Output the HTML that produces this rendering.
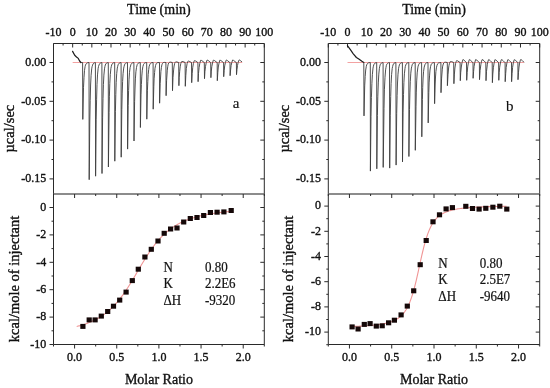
<!DOCTYPE html>
<html><head><meta charset="utf-8"><style>
html,body{margin:0;padding:0;background:#fff;}
body{width:550px;height:388px;overflow:hidden;font-family:"Liberation Serif",serif;}
svg{display:block;will-change:transform;}
</style></head><body>
<svg width="550" height="388" viewBox="0 0 550 388" font-family="Liberation Serif" fill="#111" stroke-linejoin="round"><rect x="53.5" y="43.5" width="210.8" height="301.0" fill="none" stroke="#2a2a2a" stroke-width="1"/>
<line x1="53.50" y1="194.00" x2="264.30" y2="194.00" stroke="#666" stroke-width="1.6"/>
<line x1="53.50" y1="43.50" x2="53.50" y2="47.50" stroke="#2a2a2a" stroke-width="1"/>
<text transform="translate(53.50,36.00) scale(1,1.1)" font-size="12" text-anchor="middle" stroke="#111" stroke-width="0.35" >-10</text>
<line x1="63.08" y1="43.50" x2="63.08" y2="45.50" stroke="#2a2a2a" stroke-width="1"/>
<line x1="72.66" y1="43.50" x2="72.66" y2="47.50" stroke="#2a2a2a" stroke-width="1"/>
<text transform="translate(72.66,36.00) scale(1,1.1)" font-size="12" text-anchor="middle" stroke="#111" stroke-width="0.35" >0</text>
<line x1="82.25" y1="43.50" x2="82.25" y2="45.50" stroke="#2a2a2a" stroke-width="1"/>
<line x1="91.83" y1="43.50" x2="91.83" y2="47.50" stroke="#2a2a2a" stroke-width="1"/>
<text transform="translate(91.83,36.00) scale(1,1.1)" font-size="12" text-anchor="middle" stroke="#111" stroke-width="0.35" >10</text>
<line x1="101.41" y1="43.50" x2="101.41" y2="45.50" stroke="#2a2a2a" stroke-width="1"/>
<line x1="110.99" y1="43.50" x2="110.99" y2="47.50" stroke="#2a2a2a" stroke-width="1"/>
<text transform="translate(110.99,36.00) scale(1,1.1)" font-size="12" text-anchor="middle" stroke="#111" stroke-width="0.35" >20</text>
<line x1="120.57" y1="43.50" x2="120.57" y2="45.50" stroke="#2a2a2a" stroke-width="1"/>
<line x1="130.15" y1="43.50" x2="130.15" y2="47.50" stroke="#2a2a2a" stroke-width="1"/>
<text transform="translate(130.15,36.00) scale(1,1.1)" font-size="12" text-anchor="middle" stroke="#111" stroke-width="0.35" >30</text>
<line x1="139.74" y1="43.50" x2="139.74" y2="45.50" stroke="#2a2a2a" stroke-width="1"/>
<line x1="149.32" y1="43.50" x2="149.32" y2="47.50" stroke="#2a2a2a" stroke-width="1"/>
<text transform="translate(149.32,36.00) scale(1,1.1)" font-size="12" text-anchor="middle" stroke="#111" stroke-width="0.35" >40</text>
<line x1="158.90" y1="43.50" x2="158.90" y2="45.50" stroke="#2a2a2a" stroke-width="1"/>
<line x1="168.48" y1="43.50" x2="168.48" y2="47.50" stroke="#2a2a2a" stroke-width="1"/>
<text transform="translate(168.48,36.00) scale(1,1.1)" font-size="12" text-anchor="middle" stroke="#111" stroke-width="0.35" >50</text>
<line x1="178.06" y1="43.50" x2="178.06" y2="45.50" stroke="#2a2a2a" stroke-width="1"/>
<line x1="187.65" y1="43.50" x2="187.65" y2="47.50" stroke="#2a2a2a" stroke-width="1"/>
<text transform="translate(187.65,36.00) scale(1,1.1)" font-size="12" text-anchor="middle" stroke="#111" stroke-width="0.35" >60</text>
<line x1="197.23" y1="43.50" x2="197.23" y2="45.50" stroke="#2a2a2a" stroke-width="1"/>
<line x1="206.81" y1="43.50" x2="206.81" y2="47.50" stroke="#2a2a2a" stroke-width="1"/>
<text transform="translate(206.81,36.00) scale(1,1.1)" font-size="12" text-anchor="middle" stroke="#111" stroke-width="0.35" >70</text>
<line x1="216.39" y1="43.50" x2="216.39" y2="45.50" stroke="#2a2a2a" stroke-width="1"/>
<line x1="225.97" y1="43.50" x2="225.97" y2="47.50" stroke="#2a2a2a" stroke-width="1"/>
<text transform="translate(225.97,36.00) scale(1,1.1)" font-size="12" text-anchor="middle" stroke="#111" stroke-width="0.35" >80</text>
<line x1="235.55" y1="43.50" x2="235.55" y2="45.50" stroke="#2a2a2a" stroke-width="1"/>
<line x1="245.14" y1="43.50" x2="245.14" y2="47.50" stroke="#2a2a2a" stroke-width="1"/>
<text transform="translate(245.14,36.00) scale(1,1.1)" font-size="12" text-anchor="middle" stroke="#111" stroke-width="0.35" >90</text>
<line x1="254.72" y1="43.50" x2="254.72" y2="45.50" stroke="#2a2a2a" stroke-width="1"/>
<line x1="264.30" y1="43.50" x2="264.30" y2="47.50" stroke="#2a2a2a" stroke-width="1"/>
<text transform="translate(264.30,36.00) scale(1,1.1)" font-size="12" text-anchor="middle" stroke="#111" stroke-width="0.35" >100</text>
<text transform="translate(158.90,13.80) scale(1,1.0)" font-size="14" text-anchor="middle" stroke="#111" stroke-width="0.35" >Time (min)</text>
<line x1="49.50" y1="62.50" x2="53.50" y2="62.50" stroke="#2a2a2a" stroke-width="1"/>
<line x1="264.30" y1="62.50" x2="260.30" y2="62.50" stroke="#2a2a2a" stroke-width="1"/>
<text transform="translate(46.20,65.80) scale(1,1.1)" font-size="12" text-anchor="end" stroke="#111" stroke-width="0.35" >0.00</text>
<line x1="51.50" y1="81.90" x2="53.50" y2="81.90" stroke="#2a2a2a" stroke-width="1"/>
<line x1="264.30" y1="81.90" x2="262.30" y2="81.90" stroke="#2a2a2a" stroke-width="1"/>
<line x1="49.50" y1="101.30" x2="53.50" y2="101.30" stroke="#2a2a2a" stroke-width="1"/>
<line x1="264.30" y1="101.30" x2="260.30" y2="101.30" stroke="#2a2a2a" stroke-width="1"/>
<text transform="translate(46.20,104.60) scale(1,1.1)" font-size="12" text-anchor="end" stroke="#111" stroke-width="0.35" >-0.05</text>
<line x1="51.50" y1="120.70" x2="53.50" y2="120.70" stroke="#2a2a2a" stroke-width="1"/>
<line x1="264.30" y1="120.70" x2="262.30" y2="120.70" stroke="#2a2a2a" stroke-width="1"/>
<line x1="49.50" y1="140.10" x2="53.50" y2="140.10" stroke="#2a2a2a" stroke-width="1"/>
<line x1="264.30" y1="140.10" x2="260.30" y2="140.10" stroke="#2a2a2a" stroke-width="1"/>
<text transform="translate(46.20,143.40) scale(1,1.1)" font-size="12" text-anchor="end" stroke="#111" stroke-width="0.35" >-0.10</text>
<line x1="51.50" y1="159.50" x2="53.50" y2="159.50" stroke="#2a2a2a" stroke-width="1"/>
<line x1="264.30" y1="159.50" x2="262.30" y2="159.50" stroke="#2a2a2a" stroke-width="1"/>
<line x1="49.50" y1="178.90" x2="53.50" y2="178.90" stroke="#2a2a2a" stroke-width="1"/>
<line x1="264.30" y1="178.90" x2="260.30" y2="178.90" stroke="#2a2a2a" stroke-width="1"/>
<text transform="translate(46.20,182.20) scale(1,1.1)" font-size="12" text-anchor="end" stroke="#111" stroke-width="0.35" >-0.15</text>
<text transform="translate(14.1,128.6) rotate(-90) scale(1,1.06)" font-size="14.5" text-anchor="middle" stroke="#111" stroke-width="0.35">µcal/sec</text>
<line x1="72.66" y1="62.50" x2="242.26" y2="62.50" stroke="#f08a8a" stroke-width="0.8"/>
<path d="M72.60,51.40 L74.70,55.30 L76.50,57.00 L78.30,58.40 L79.60,61.00 L80.90,62.50" fill="none" stroke="#1a1a1a" stroke-width="1.2" stroke-linejoin="round" stroke-linecap="round"/>
<path d="M80.9,62.5 L82.6,62.5 L82.8,119.4 L83.5,87.4 L84.0,77.3 L84.5,70.5 L85.1,66.5 L85.5,65.1 L86.0,64.0 L86.5,63.4 L87.1,62.9 L87.9,62.7 L89.0,62.5 L89.2,179.7 L89.8,121.0 L90.2,100.3 L90.6,85.0 L91.1,75.3 L91.7,68.9 L92.1,66.6 L92.6,65.1 L93.0,64.0 L93.7,63.2 L94.4,62.8 L95.4,62.6 L95.6,176.2 L96.2,119.2 L96.6,99.2 L97.0,84.3 L97.5,74.9 L98.1,68.7 L98.5,66.5 L99.0,65.0 L99.5,63.9 L100.1,63.2 L100.8,62.8 L101.9,62.6 L102.0,173.5 L102.6,117.9 L103.0,98.3 L103.4,84.7 L103.9,75.1 L104.5,68.8 L104.9,66.6 L105.3,65.0 L105.8,63.9 L106.4,63.2 L107.2,62.8 L108.3,62.6 L108.4,167.0 L109.1,112.4 L109.4,96.2 L109.8,83.4 L110.3,74.4 L110.9,68.4 L111.3,66.5 L111.7,65.0 L112.2,63.9 L112.8,63.2 L113.6,62.8 L114.7,62.6 L114.8,161.2 L115.4,111.7 L115.8,94.4 L116.2,82.3 L116.7,73.7 L117.3,68.1 L117.7,66.3 L118.1,64.8 L118.6,63.8 L119.2,63.2 L120.0,62.8 L121.1,62.6 L121.2,157.2 L121.8,109.7 L122.2,93.1 L122.6,81.5 L123.1,73.3 L123.7,68.1 L124.1,66.3 L124.5,64.9 L125.0,63.8 L125.6,63.2 L126.4,62.8 L127.5,62.6 L127.6,149.1 L128.2,105.7 L128.6,90.5 L129.0,79.8 L129.5,72.3 L130.1,67.6 L130.9,64.7 L131.3,63.8 L131.9,63.2 L132.7,62.8 L133.9,62.6 L134.0,141.0 L134.6,101.7 L135.0,89.0 L135.4,78.9 L135.9,71.8 L136.5,67.4 L137.2,64.6 L137.7,63.8 L138.2,63.2 L139.1,62.8 L140.3,62.6 L140.4,127.5 L141.0,94.9 L141.4,84.4 L141.8,76.1 L142.3,70.2 L142.9,66.5 L143.6,64.3 L144.1,63.5 L144.6,63.1 L145.4,62.7 L146.7,62.6 L146.8,119.2 L147.4,90.8 L147.8,81.6 L148.2,74.4 L148.7,69.5 L149.2,66.2 L150.0,64.1 L150.4,63.5 L150.9,63.0 L151.8,62.7 L153.1,62.5 L153.2,109.2 L153.8,86.8 L154.1,78.8 L154.6,72.5 L155.0,68.3 L155.6,65.4 L156.2,63.7 L156.6,63.2 L157.1,62.8 L158.0,62.6 L159.5,62.5 L159.6,103.2 L160.2,83.7 L160.9,71.5 L161.4,67.5 L161.9,64.8 L162.5,63.4 L162.8,62.9 L163.3,62.6 L164.3,62.4 L165.9,62.5 L166.1,95.7 L166.6,80.4 L167.3,70.2 L167.7,66.8 L168.2,64.2 L168.7,63.0 L169.1,62.6 L169.5,62.3 L170.5,62.1 L172.3,62.5 L172.5,90.7 L173.0,77.6 L173.7,69.1 L174.1,66.0 L174.6,63.7 L175.0,62.5 L175.6,61.9 L176.7,61.9 L178.7,62.5 L178.9,85.7 L179.2,77.3 L179.7,71.3 L180.2,66.8 L180.8,63.5 L181.4,61.8 L181.9,61.5 L183.0,61.6 L185.1,62.5 L185.3,86.3 L185.8,75.7 L186.3,68.6 L187.1,63.6 L187.8,61.4 L188.1,61.2 L188.6,61.1 L189.2,61.3 L191.5,62.5 L191.7,82.7 L192.2,73.6 L192.7,67.7 L193.4,63.5 L193.9,61.8 L194.3,60.7 L194.8,60.7 L195.4,60.9 L197.8,62.5 L197.9,62.5 L198.1,81.7 L198.5,73.5 L199.1,67.6 L199.8,63.3 L200.6,60.3 L201.1,60.3 L201.8,60.6 L204.2,62.5 L204.3,62.5 L204.5,78.7 L204.9,71.7 L205.5,66.6 L206.2,62.8 L207.0,60.1 L207.5,60.2 L208.2,60.5 L210.6,62.5 L210.7,62.5 L210.9,77.7 L211.3,71.1 L211.8,66.6 L212.5,63.0 L213.3,60.3 L213.5,60.1 L214.3,60.4 L217.0,62.5 L217.2,62.5 L217.3,80.7 L217.8,72.6 L218.3,67.0 L219.0,63.2 L219.8,60.2 L220.3,60.3 L221.0,60.6 L223.4,62.5 L223.6,62.5 L223.7,76.7 L224.2,70.5 L224.7,65.9 L225.4,62.6 L226.2,60.1 L226.7,60.1 L227.3,60.5 L229.8,62.5 L230.0,62.5 L230.1,75.7 L230.6,69.9 L231.1,65.6 L231.8,62.5 L232.6,60.0 L233.1,60.1 L233.7,60.5 L236.2,62.5 L236.4,62.5 L236.5,74.7 L237.0,69.3 L237.5,65.5 L238.1,62.6 L238.8,60.4 L239.1,59.9 L239.6,60.1 L240.5,60.7 L242.0,62.0" fill="none" stroke="#3c3c3c" stroke-width="0.9" stroke-linejoin="round"/>
<text transform="translate(236.00,108.00) scale(1,1.0)" font-size="15" text-anchor="middle" stroke="#111" stroke-width="0.15" >a</text>
<line x1="53.50" y1="344.50" x2="53.50" y2="346.50" stroke="#2a2a2a" stroke-width="1"/>
<line x1="53.50" y1="194.00" x2="53.50" y2="196.00" stroke="#2a2a2a" stroke-width="1"/>
<line x1="74.58" y1="344.50" x2="74.58" y2="348.50" stroke="#2a2a2a" stroke-width="1"/>
<line x1="74.58" y1="194.00" x2="74.58" y2="198.00" stroke="#2a2a2a" stroke-width="1"/>
<text transform="translate(74.58,360.80) scale(1,1.1)" font-size="12" text-anchor="middle" stroke="#111" stroke-width="0.35" >0.0</text>
<line x1="95.66" y1="344.50" x2="95.66" y2="346.50" stroke="#2a2a2a" stroke-width="1"/>
<line x1="95.66" y1="194.00" x2="95.66" y2="196.00" stroke="#2a2a2a" stroke-width="1"/>
<line x1="116.74" y1="344.50" x2="116.74" y2="348.50" stroke="#2a2a2a" stroke-width="1"/>
<line x1="116.74" y1="194.00" x2="116.74" y2="198.00" stroke="#2a2a2a" stroke-width="1"/>
<text transform="translate(116.74,360.80) scale(1,1.1)" font-size="12" text-anchor="middle" stroke="#111" stroke-width="0.35" >0.5</text>
<line x1="137.82" y1="344.50" x2="137.82" y2="346.50" stroke="#2a2a2a" stroke-width="1"/>
<line x1="137.82" y1="194.00" x2="137.82" y2="196.00" stroke="#2a2a2a" stroke-width="1"/>
<line x1="158.90" y1="344.50" x2="158.90" y2="348.50" stroke="#2a2a2a" stroke-width="1"/>
<line x1="158.90" y1="194.00" x2="158.90" y2="198.00" stroke="#2a2a2a" stroke-width="1"/>
<text transform="translate(158.90,360.80) scale(1,1.1)" font-size="12" text-anchor="middle" stroke="#111" stroke-width="0.35" >1.0</text>
<line x1="179.98" y1="344.50" x2="179.98" y2="346.50" stroke="#2a2a2a" stroke-width="1"/>
<line x1="179.98" y1="194.00" x2="179.98" y2="196.00" stroke="#2a2a2a" stroke-width="1"/>
<line x1="201.06" y1="344.50" x2="201.06" y2="348.50" stroke="#2a2a2a" stroke-width="1"/>
<line x1="201.06" y1="194.00" x2="201.06" y2="198.00" stroke="#2a2a2a" stroke-width="1"/>
<text transform="translate(201.06,360.80) scale(1,1.1)" font-size="12" text-anchor="middle" stroke="#111" stroke-width="0.35" >1.5</text>
<line x1="222.14" y1="344.50" x2="222.14" y2="346.50" stroke="#2a2a2a" stroke-width="1"/>
<line x1="222.14" y1="194.00" x2="222.14" y2="196.00" stroke="#2a2a2a" stroke-width="1"/>
<line x1="243.22" y1="344.50" x2="243.22" y2="348.50" stroke="#2a2a2a" stroke-width="1"/>
<line x1="243.22" y1="194.00" x2="243.22" y2="198.00" stroke="#2a2a2a" stroke-width="1"/>
<text transform="translate(243.22,360.80) scale(1,1.1)" font-size="12" text-anchor="middle" stroke="#111" stroke-width="0.35" >2.0</text>
<line x1="264.30" y1="344.50" x2="264.30" y2="346.50" stroke="#2a2a2a" stroke-width="1"/>
<line x1="264.30" y1="194.00" x2="264.30" y2="196.00" stroke="#2a2a2a" stroke-width="1"/>
<text transform="translate(158.90,383.50) scale(1,1.0)" font-size="14" text-anchor="middle" stroke="#111" stroke-width="0.35" >Molar Ratio</text>
<line x1="49.50" y1="344.50" x2="53.50" y2="344.50" stroke="#2a2a2a" stroke-width="1"/>
<line x1="264.30" y1="344.50" x2="260.30" y2="344.50" stroke="#2a2a2a" stroke-width="1"/>
<text transform="translate(46.20,347.80) scale(1,1.1)" font-size="12" text-anchor="end" stroke="#111" stroke-width="0.35" >-10</text>
<line x1="51.50" y1="330.80" x2="53.50" y2="330.80" stroke="#2a2a2a" stroke-width="1"/>
<line x1="264.30" y1="330.80" x2="262.30" y2="330.80" stroke="#2a2a2a" stroke-width="1"/>
<line x1="49.50" y1="317.10" x2="53.50" y2="317.10" stroke="#2a2a2a" stroke-width="1"/>
<line x1="264.30" y1="317.10" x2="260.30" y2="317.10" stroke="#2a2a2a" stroke-width="1"/>
<text transform="translate(46.20,320.40) scale(1,1.1)" font-size="12" text-anchor="end" stroke="#111" stroke-width="0.35" >-8</text>
<line x1="51.50" y1="303.40" x2="53.50" y2="303.40" stroke="#2a2a2a" stroke-width="1"/>
<line x1="264.30" y1="303.40" x2="262.30" y2="303.40" stroke="#2a2a2a" stroke-width="1"/>
<line x1="49.50" y1="289.70" x2="53.50" y2="289.70" stroke="#2a2a2a" stroke-width="1"/>
<line x1="264.30" y1="289.70" x2="260.30" y2="289.70" stroke="#2a2a2a" stroke-width="1"/>
<text transform="translate(46.20,293.00) scale(1,1.1)" font-size="12" text-anchor="end" stroke="#111" stroke-width="0.35" >-6</text>
<line x1="51.50" y1="276.00" x2="53.50" y2="276.00" stroke="#2a2a2a" stroke-width="1"/>
<line x1="264.30" y1="276.00" x2="262.30" y2="276.00" stroke="#2a2a2a" stroke-width="1"/>
<line x1="49.50" y1="262.30" x2="53.50" y2="262.30" stroke="#2a2a2a" stroke-width="1"/>
<line x1="264.30" y1="262.30" x2="260.30" y2="262.30" stroke="#2a2a2a" stroke-width="1"/>
<text transform="translate(46.20,265.60) scale(1,1.1)" font-size="12" text-anchor="end" stroke="#111" stroke-width="0.35" >-4</text>
<line x1="51.50" y1="248.60" x2="53.50" y2="248.60" stroke="#2a2a2a" stroke-width="1"/>
<line x1="264.30" y1="248.60" x2="262.30" y2="248.60" stroke="#2a2a2a" stroke-width="1"/>
<line x1="49.50" y1="234.90" x2="53.50" y2="234.90" stroke="#2a2a2a" stroke-width="1"/>
<line x1="264.30" y1="234.90" x2="260.30" y2="234.90" stroke="#2a2a2a" stroke-width="1"/>
<text transform="translate(46.20,238.20) scale(1,1.1)" font-size="12" text-anchor="end" stroke="#111" stroke-width="0.35" >-2</text>
<line x1="51.50" y1="221.20" x2="53.50" y2="221.20" stroke="#2a2a2a" stroke-width="1"/>
<line x1="264.30" y1="221.20" x2="262.30" y2="221.20" stroke="#2a2a2a" stroke-width="1"/>
<line x1="49.50" y1="207.50" x2="53.50" y2="207.50" stroke="#2a2a2a" stroke-width="1"/>
<line x1="264.30" y1="207.50" x2="260.30" y2="207.50" stroke="#2a2a2a" stroke-width="1"/>
<text transform="translate(46.20,210.80) scale(1,1.1)" font-size="12" text-anchor="end" stroke="#111" stroke-width="0.35" >0</text>
<text transform="translate(18.6,279) rotate(-90) scale(1,1.06)" font-size="14.5" text-anchor="middle" stroke="#111" stroke-width="0.35">kcal/mole of injectant</text>
<path d="M76.70,326.50 L77.48,326.30 L78.26,326.09 L79.04,325.88 L79.82,325.67 L80.60,325.44 L81.38,325.21 L82.16,324.98 L82.94,324.73 L83.72,324.48 L84.50,324.22 L85.28,323.96 L86.06,323.68 L86.85,323.40 L87.63,323.11 L88.41,322.81 L89.19,322.50 L89.97,322.18 L90.75,321.86 L91.53,321.52 L92.31,321.17 L93.09,320.81 L93.87,320.44 L94.65,320.06 L95.43,319.67 L96.21,319.26 L96.99,318.84 L97.77,318.41 L98.55,317.97 L99.33,317.51 L100.11,317.04 L100.89,316.55 L101.67,316.05 L102.45,315.53 L103.23,314.99 L104.01,314.44 L104.79,313.87 L105.57,313.28 L106.36,312.68 L107.14,312.06 L107.92,311.41 L108.70,310.75 L109.48,310.07 L110.26,309.37 L111.04,308.64 L111.82,307.90 L112.60,307.13 L113.38,306.35 L114.16,305.53 L114.94,304.70 L115.72,303.84 L116.50,302.96 L117.28,302.06 L118.06,301.14 L118.84,300.19 L119.62,299.21 L120.40,298.21 L121.18,297.19 L121.96,296.15 L122.74,295.08 L123.52,293.99 L124.30,292.88 L125.08,291.75 L125.87,290.59 L126.65,289.42 L127.43,288.23 L128.21,287.01 L128.99,285.78 L129.77,284.54 L130.55,283.27 L131.33,282.00 L132.11,280.71 L132.89,279.41 L133.67,278.10 L134.45,276.78 L135.23,275.46 L136.01,274.13 L136.79,272.79 L137.57,271.46 L138.35,270.12 L139.13,268.79 L139.91,267.46 L140.69,266.13 L141.47,264.82 L142.25,263.51 L143.03,262.20 L143.81,260.92 L144.59,259.64 L145.38,258.38 L146.16,257.13 L146.94,255.90 L147.72,254.69 L148.50,253.49 L149.28,252.32 L150.06,251.16 L150.84,250.03 L151.62,248.92 L152.40,247.82 L153.18,246.76 L153.96,245.71 L154.74,244.69 L155.52,243.69 L156.30,242.72 L157.08,241.77 L157.86,240.84 L158.64,239.94 L159.42,239.06 L160.20,238.20 L160.98,237.37 L161.76,236.55 L162.54,235.77 L163.32,235.00 L164.11,234.25 L164.89,233.53 L165.67,232.83 L166.45,232.14 L167.23,231.48 L168.01,230.84 L168.79,230.21 L169.57,229.61 L170.35,229.02 L171.13,228.45 L171.91,227.90 L172.69,227.36 L173.47,226.84 L174.25,226.34 L175.03,225.85 L175.81,225.38 L176.59,224.92 L177.37,224.48 L178.15,224.04 L178.93,223.63 L179.71,223.22 L180.49,222.83 L181.27,222.44 L182.05,222.07 L182.83,221.72 L183.62,221.37 L184.40,221.03 L185.18,220.70 L185.96,220.38 L186.74,220.07 L187.52,219.77 L188.30,219.48 L189.08,219.20 L189.86,218.93 L190.64,218.66 L191.42,218.40 L192.20,218.15 L192.98,217.91 L193.76,217.67 L194.54,217.44 L195.32,217.22 L196.10,217.00 L196.88,216.79 L197.66,216.58 L198.44,216.38 L199.22,216.19 L200.00,216.00 L200.78,215.81 L201.56,215.63 L202.34,215.46 L203.13,215.29 L203.91,215.12 L204.69,214.96 L205.47,214.81 L206.25,214.65 L207.03,214.50 L207.81,214.36 L208.59,214.22 L209.37,214.08 L210.15,213.95 L210.93,213.82 L211.71,213.69 L212.49,213.56 L213.27,213.44 L214.05,213.32 L214.83,213.21 L215.61,213.10 L216.39,212.99 L217.17,212.88 L217.95,212.77 L218.73,212.67 L219.51,212.57 L220.29,212.47 L221.07,212.38 L221.85,212.28 L222.64,212.19 L223.42,212.10 L224.20,212.02 L224.98,211.93 L225.76,211.85 L226.54,211.77 L227.32,211.69 L228.10,211.61 L228.88,211.53 L229.66,211.46 L230.44,211.39 L231.22,211.32 L232.00,211.25" fill="none" stroke="#f09595" stroke-width="1.1"/>
<rect x="80.30" y="323.90" width="5.2" height="5" fill="#150808"/>
<rect x="86.60" y="317.40" width="5.2" height="5" fill="#150808"/>
<rect x="92.50" y="317.40" width="5.2" height="5" fill="#150808"/>
<rect x="98.70" y="313.60" width="5.2" height="5" fill="#150808"/>
<rect x="105.10" y="309.00" width="5.2" height="5" fill="#150808"/>
<rect x="110.90" y="303.70" width="5.2" height="5" fill="#150808"/>
<rect x="117.10" y="297.60" width="5.2" height="5" fill="#150808"/>
<rect x="123.50" y="289.60" width="5.2" height="5" fill="#150808"/>
<rect x="129.70" y="278.10" width="5.2" height="5" fill="#150808"/>
<rect x="135.70" y="266.70" width="5.2" height="5" fill="#150808"/>
<rect x="142.30" y="254.50" width="5.2" height="5" fill="#150808"/>
<rect x="148.70" y="246.80" width="5.2" height="5" fill="#150808"/>
<rect x="155.40" y="238.50" width="5.2" height="5" fill="#150808"/>
<rect x="161.60" y="230.80" width="5.2" height="5" fill="#150808"/>
<rect x="168.00" y="226.50" width="5.2" height="5" fill="#150808"/>
<rect x="174.40" y="225.50" width="5.2" height="5" fill="#150808"/>
<rect x="181.10" y="219.50" width="5.2" height="5" fill="#150808"/>
<rect x="187.70" y="216.00" width="5.2" height="5" fill="#150808"/>
<rect x="194.40" y="215.00" width="5.2" height="5" fill="#150808"/>
<rect x="201.10" y="213.00" width="5.2" height="5" fill="#150808"/>
<rect x="207.80" y="210.00" width="5.2" height="5" fill="#150808"/>
<rect x="214.50" y="209.70" width="5.2" height="5" fill="#150808"/>
<rect x="221.30" y="209.40" width="5.2" height="5" fill="#150808"/>
<rect x="228.60" y="208.00" width="5.2" height="5" fill="#150808"/>
<text transform="translate(163.50,271.80) scale(1,1.1)" font-size="13" text-anchor="start" stroke="#111" stroke-width="0.2" >N</text>
<text transform="translate(204.90,271.80) scale(1,1.1)" font-size="13" text-anchor="start" stroke="#111" stroke-width="0.2" >0.80</text>
<text transform="translate(163.50,288.40) scale(1,1.1)" font-size="13" text-anchor="start" stroke="#111" stroke-width="0.2" >K</text>
<text transform="translate(204.90,288.40) scale(1,1.1)" font-size="13" text-anchor="start" stroke="#111" stroke-width="0.2" >2.2E6</text>
<text transform="translate(163.50,305.00) scale(1,1.1)" font-size="13" text-anchor="start" stroke="#111" stroke-width="0.2" >ΔH</text>
<text transform="translate(204.90,305.00) scale(1,1.1)" font-size="13" text-anchor="start" stroke="#111" stroke-width="0.2" >-9320</text>
<rect x="328.3" y="43.5" width="211.40000000000003" height="301.0" fill="none" stroke="#2a2a2a" stroke-width="1"/>
<line x1="328.30" y1="194.00" x2="539.70" y2="194.00" stroke="#666" stroke-width="1.6"/>
<line x1="328.30" y1="43.50" x2="328.30" y2="47.50" stroke="#2a2a2a" stroke-width="1"/>
<text transform="translate(328.30,36.00) scale(1,1.1)" font-size="12" text-anchor="middle" stroke="#111" stroke-width="0.35" >-10</text>
<line x1="337.91" y1="43.50" x2="337.91" y2="45.50" stroke="#2a2a2a" stroke-width="1"/>
<line x1="347.52" y1="43.50" x2="347.52" y2="47.50" stroke="#2a2a2a" stroke-width="1"/>
<text transform="translate(347.52,36.00) scale(1,1.1)" font-size="12" text-anchor="middle" stroke="#111" stroke-width="0.35" >0</text>
<line x1="357.13" y1="43.50" x2="357.13" y2="45.50" stroke="#2a2a2a" stroke-width="1"/>
<line x1="366.74" y1="43.50" x2="366.74" y2="47.50" stroke="#2a2a2a" stroke-width="1"/>
<text transform="translate(366.74,36.00) scale(1,1.1)" font-size="12" text-anchor="middle" stroke="#111" stroke-width="0.35" >10</text>
<line x1="376.35" y1="43.50" x2="376.35" y2="45.50" stroke="#2a2a2a" stroke-width="1"/>
<line x1="385.95" y1="43.50" x2="385.95" y2="47.50" stroke="#2a2a2a" stroke-width="1"/>
<text transform="translate(385.95,36.00) scale(1,1.1)" font-size="12" text-anchor="middle" stroke="#111" stroke-width="0.35" >20</text>
<line x1="395.56" y1="43.50" x2="395.56" y2="45.50" stroke="#2a2a2a" stroke-width="1"/>
<line x1="405.17" y1="43.50" x2="405.17" y2="47.50" stroke="#2a2a2a" stroke-width="1"/>
<text transform="translate(405.17,36.00) scale(1,1.1)" font-size="12" text-anchor="middle" stroke="#111" stroke-width="0.35" >30</text>
<line x1="414.78" y1="43.50" x2="414.78" y2="45.50" stroke="#2a2a2a" stroke-width="1"/>
<line x1="424.39" y1="43.50" x2="424.39" y2="47.50" stroke="#2a2a2a" stroke-width="1"/>
<text transform="translate(424.39,36.00) scale(1,1.1)" font-size="12" text-anchor="middle" stroke="#111" stroke-width="0.35" >40</text>
<line x1="434.00" y1="43.50" x2="434.00" y2="45.50" stroke="#2a2a2a" stroke-width="1"/>
<line x1="443.61" y1="43.50" x2="443.61" y2="47.50" stroke="#2a2a2a" stroke-width="1"/>
<text transform="translate(443.61,36.00) scale(1,1.1)" font-size="12" text-anchor="middle" stroke="#111" stroke-width="0.35" >50</text>
<line x1="453.22" y1="43.50" x2="453.22" y2="45.50" stroke="#2a2a2a" stroke-width="1"/>
<line x1="462.83" y1="43.50" x2="462.83" y2="47.50" stroke="#2a2a2a" stroke-width="1"/>
<text transform="translate(462.83,36.00) scale(1,1.1)" font-size="12" text-anchor="middle" stroke="#111" stroke-width="0.35" >60</text>
<line x1="472.44" y1="43.50" x2="472.44" y2="45.50" stroke="#2a2a2a" stroke-width="1"/>
<line x1="482.05" y1="43.50" x2="482.05" y2="47.50" stroke="#2a2a2a" stroke-width="1"/>
<text transform="translate(482.05,36.00) scale(1,1.1)" font-size="12" text-anchor="middle" stroke="#111" stroke-width="0.35" >70</text>
<line x1="491.65" y1="43.50" x2="491.65" y2="45.50" stroke="#2a2a2a" stroke-width="1"/>
<line x1="501.26" y1="43.50" x2="501.26" y2="47.50" stroke="#2a2a2a" stroke-width="1"/>
<text transform="translate(501.26,36.00) scale(1,1.1)" font-size="12" text-anchor="middle" stroke="#111" stroke-width="0.35" >80</text>
<line x1="510.87" y1="43.50" x2="510.87" y2="45.50" stroke="#2a2a2a" stroke-width="1"/>
<line x1="520.48" y1="43.50" x2="520.48" y2="47.50" stroke="#2a2a2a" stroke-width="1"/>
<text transform="translate(520.48,36.00) scale(1,1.1)" font-size="12" text-anchor="middle" stroke="#111" stroke-width="0.35" >90</text>
<line x1="530.09" y1="43.50" x2="530.09" y2="45.50" stroke="#2a2a2a" stroke-width="1"/>
<line x1="539.70" y1="43.50" x2="539.70" y2="47.50" stroke="#2a2a2a" stroke-width="1"/>
<text transform="translate(539.70,36.00) scale(1,1.1)" font-size="12" text-anchor="middle" stroke="#111" stroke-width="0.35" >100</text>
<text transform="translate(434.00,13.80) scale(1,1.0)" font-size="14" text-anchor="middle" stroke="#111" stroke-width="0.35" >Time (min)</text>
<line x1="324.30" y1="62.50" x2="328.30" y2="62.50" stroke="#2a2a2a" stroke-width="1"/>
<line x1="539.70" y1="62.50" x2="535.70" y2="62.50" stroke="#2a2a2a" stroke-width="1"/>
<text transform="translate(321.00,65.80) scale(1,1.1)" font-size="12" text-anchor="end" stroke="#111" stroke-width="0.35" >0.00</text>
<line x1="326.30" y1="81.90" x2="328.30" y2="81.90" stroke="#2a2a2a" stroke-width="1"/>
<line x1="539.70" y1="81.90" x2="537.70" y2="81.90" stroke="#2a2a2a" stroke-width="1"/>
<line x1="324.30" y1="101.30" x2="328.30" y2="101.30" stroke="#2a2a2a" stroke-width="1"/>
<line x1="539.70" y1="101.30" x2="535.70" y2="101.30" stroke="#2a2a2a" stroke-width="1"/>
<text transform="translate(321.00,104.60) scale(1,1.1)" font-size="12" text-anchor="end" stroke="#111" stroke-width="0.35" >-0.05</text>
<line x1="326.30" y1="120.70" x2="328.30" y2="120.70" stroke="#2a2a2a" stroke-width="1"/>
<line x1="539.70" y1="120.70" x2="537.70" y2="120.70" stroke="#2a2a2a" stroke-width="1"/>
<line x1="324.30" y1="140.10" x2="328.30" y2="140.10" stroke="#2a2a2a" stroke-width="1"/>
<line x1="539.70" y1="140.10" x2="535.70" y2="140.10" stroke="#2a2a2a" stroke-width="1"/>
<text transform="translate(321.00,143.40) scale(1,1.1)" font-size="12" text-anchor="end" stroke="#111" stroke-width="0.35" >-0.10</text>
<line x1="326.30" y1="159.50" x2="328.30" y2="159.50" stroke="#2a2a2a" stroke-width="1"/>
<line x1="539.70" y1="159.50" x2="537.70" y2="159.50" stroke="#2a2a2a" stroke-width="1"/>
<line x1="324.30" y1="178.90" x2="328.30" y2="178.90" stroke="#2a2a2a" stroke-width="1"/>
<line x1="539.70" y1="178.90" x2="535.70" y2="178.90" stroke="#2a2a2a" stroke-width="1"/>
<text transform="translate(321.00,182.20) scale(1,1.1)" font-size="12" text-anchor="end" stroke="#111" stroke-width="0.35" >-0.15</text>
<text transform="translate(288.90000000000003,128.6) rotate(-90) scale(1,1.06)" font-size="14.5" text-anchor="middle" stroke="#111" stroke-width="0.35">µcal/sec</text>
<line x1="347.52" y1="62.50" x2="524.00" y2="62.50" stroke="#f08a8a" stroke-width="0.8"/>
<path d="M347.40,45.70 L350.20,49.40 L353.30,53.80 L356.40,57.50 L358.80,59.00 L361.90,61.20 L363.80,62.40" fill="none" stroke="#1a1a1a" stroke-width="1.2" stroke-linejoin="round" stroke-linecap="round"/>
<path d="M363.8,62.4 L364.0,115.9 L364.7,85.9 L365.2,76.4 L365.7,70.0 L366.3,66.3 L366.7,64.9 L367.2,63.9 L367.7,63.3 L368.3,62.9 L369.1,62.7 L370.3,62.5 L370.4,171.1 L371.0,116.7 L371.4,97.6 L371.9,83.3 L372.4,74.3 L373.0,68.1 L373.4,66.2 L373.8,64.8 L374.3,63.8 L375.0,63.1 L375.7,62.8 L376.7,62.6 L376.8,168.8 L377.4,115.5 L377.8,96.8 L378.3,82.9 L378.8,74.1 L379.4,68.3 L379.8,66.2 L380.2,64.8 L380.7,63.8 L381.4,63.1 L382.1,62.8 L383.1,62.6 L383.2,167.4 L384.0,108.4 L384.4,89.8 L385.0,77.3 L385.6,69.9 L386.0,67.3 L386.4,65.3 L386.9,64.1 L387.6,63.3 L388.4,62.8 L389.5,62.6 L389.7,168.1 L390.3,115.2 L390.7,96.6 L391.1,83.6 L391.6,74.5 L392.2,68.5 L392.6,66.6 L393.0,65.0 L393.5,63.9 L394.1,63.2 L394.9,62.8 L395.9,62.6 L396.1,165.1 L396.7,113.7 L397.1,95.6 L397.5,83.0 L398.0,74.2 L398.6,68.3 L399.0,66.4 L399.4,64.9 L399.9,63.9 L400.5,63.2 L401.2,62.8 L402.4,62.6 L402.5,161.9 L403.1,112.1 L403.5,94.6 L403.9,82.4 L404.4,73.8 L405.0,68.4 L405.3,66.5 L405.8,65.0 L406.3,63.9 L406.8,63.2 L407.7,62.8 L408.8,62.6 L408.9,156.5 L409.5,109.4 L409.9,92.9 L410.3,81.3 L410.8,73.2 L411.4,68.1 L411.8,66.3 L412.2,64.8 L412.7,63.9 L413.2,63.2 L414.0,62.8 L415.2,62.6 L415.3,150.3 L416.0,106.3 L416.3,92.1 L416.7,80.9 L417.2,72.9 L417.8,67.9 L418.1,66.2 L418.6,64.8 L419.0,63.9 L419.6,63.2 L420.4,62.8 L421.6,62.6 L421.8,136.8 L422.4,99.6 L422.7,87.6 L423.1,78.0 L423.6,71.3 L424.2,67.1 L425.0,64.5 L425.4,63.7 L426.0,63.1 L426.8,62.7 L428.0,62.6 L428.2,122.9 L428.8,92.6 L429.1,82.9 L429.6,75.1 L430.0,70.0 L430.6,66.4 L431.3,64.2 L431.8,63.5 L432.3,63.1 L433.2,62.7 L434.4,62.6 L434.6,103.7 L435.2,84.0 L435.5,77.0 L435.9,71.5 L436.4,67.8 L437.0,65.3 L437.7,63.7 L438.1,63.3 L438.7,62.9 L439.6,62.7 L440.9,62.5 L441.0,92.7 L441.6,78.1 L442.3,69.2 L442.7,66.1 L443.3,64.0 L443.7,63.0 L444.6,62.3 L445.5,62.2 L447.3,62.5 L447.4,85.7 L448.0,74.8 L448.6,68.0 L449.0,65.3 L449.5,63.3 L450.0,61.8 L450.5,61.6 L451.6,61.6 L453.7,62.5 L453.9,83.7 L454.4,74.1 L454.9,68.0 L455.6,63.4 L456.2,61.5 L456.4,60.8 L456.5,60.7 L457.0,60.7 L457.7,60.9 L460.0,62.5 L460.1,62.5 L460.3,80.7 L460.7,72.8 L461.3,67.0 L462.0,62.7 L462.9,59.6 L463.4,59.7 L464.0,60.2 L466.4,62.5 L466.5,62.5 L466.7,80.3 L467.2,72.6 L467.7,66.9 L468.4,62.7 L469.3,59.6 L469.8,59.7 L470.4,60.2 L472.8,62.5 L473.0,62.5 L473.1,78.3 L473.6,71.4 L474.1,66.3 L474.8,62.5 L475.6,59.6 L475.7,59.5 L476.0,59.6 L476.7,60.0 L479.2,62.5 L479.4,62.5 L479.5,79.7 L480.1,70.4 L480.9,64.4 L481.4,61.8 L482.1,59.6 L483.0,59.9 L484.0,60.8 L485.6,62.5 L485.8,62.5 L486.0,80.7 L486.5,71.3 L487.3,64.8 L487.8,62.0 L488.5,59.7 L488.8,59.6 L489.3,59.9 L490.3,60.7 L492.1,62.5 L492.2,62.5 L492.4,82.7 L492.8,74.0 L493.4,67.7 L494.1,63.0 L494.9,59.7 L495.4,59.8 L496.1,60.2 L498.5,62.5 L498.6,62.5 L498.8,80.3 L499.2,72.6 L499.7,67.2 L500.4,63.0 L501.2,59.9 L501.4,59.6 L502.2,59.9 L503.2,60.8 L504.9,62.5 L505.1,62.5 L505.2,81.7 L505.7,73.4 L506.2,67.4 L506.9,62.9 L507.8,59.7 L508.4,59.8 L509.1,60.3 L511.3,62.5 L511.5,62.5 L511.5,62.7 L511.6,81.7 L512.1,73.4 L512.6,67.4 L513.3,62.9 L514.2,59.7 L514.7,59.8 L515.4,60.2 L517.7,62.5 L517.9,62.5 L518.0,79.7 L518.5,72.3 L519.0,67.0 L519.6,63.1 L520.4,60.1 L520.6,59.6 L521.4,59.8 L522.3,60.6 L524.0,62.3" fill="none" stroke="#3c3c3c" stroke-width="0.9" stroke-linejoin="round"/>
<text transform="translate(509.70,110.50) scale(1,1.0)" font-size="15" text-anchor="middle" stroke="#111" stroke-width="0.15" >b</text>
<line x1="328.30" y1="344.50" x2="328.30" y2="346.50" stroke="#2a2a2a" stroke-width="1"/>
<line x1="328.30" y1="194.00" x2="328.30" y2="196.00" stroke="#2a2a2a" stroke-width="1"/>
<line x1="349.44" y1="344.50" x2="349.44" y2="348.50" stroke="#2a2a2a" stroke-width="1"/>
<line x1="349.44" y1="194.00" x2="349.44" y2="198.00" stroke="#2a2a2a" stroke-width="1"/>
<text transform="translate(349.44,360.80) scale(1,1.1)" font-size="12" text-anchor="middle" stroke="#111" stroke-width="0.35" >0.0</text>
<line x1="370.58" y1="344.50" x2="370.58" y2="346.50" stroke="#2a2a2a" stroke-width="1"/>
<line x1="370.58" y1="194.00" x2="370.58" y2="196.00" stroke="#2a2a2a" stroke-width="1"/>
<line x1="391.72" y1="344.50" x2="391.72" y2="348.50" stroke="#2a2a2a" stroke-width="1"/>
<line x1="391.72" y1="194.00" x2="391.72" y2="198.00" stroke="#2a2a2a" stroke-width="1"/>
<text transform="translate(391.72,360.80) scale(1,1.1)" font-size="12" text-anchor="middle" stroke="#111" stroke-width="0.35" >0.5</text>
<line x1="412.86" y1="344.50" x2="412.86" y2="346.50" stroke="#2a2a2a" stroke-width="1"/>
<line x1="412.86" y1="194.00" x2="412.86" y2="196.00" stroke="#2a2a2a" stroke-width="1"/>
<line x1="434.00" y1="344.50" x2="434.00" y2="348.50" stroke="#2a2a2a" stroke-width="1"/>
<line x1="434.00" y1="194.00" x2="434.00" y2="198.00" stroke="#2a2a2a" stroke-width="1"/>
<text transform="translate(434.00,360.80) scale(1,1.1)" font-size="12" text-anchor="middle" stroke="#111" stroke-width="0.35" >1.0</text>
<line x1="455.14" y1="344.50" x2="455.14" y2="346.50" stroke="#2a2a2a" stroke-width="1"/>
<line x1="455.14" y1="194.00" x2="455.14" y2="196.00" stroke="#2a2a2a" stroke-width="1"/>
<line x1="476.28" y1="344.50" x2="476.28" y2="348.50" stroke="#2a2a2a" stroke-width="1"/>
<line x1="476.28" y1="194.00" x2="476.28" y2="198.00" stroke="#2a2a2a" stroke-width="1"/>
<text transform="translate(476.28,360.80) scale(1,1.1)" font-size="12" text-anchor="middle" stroke="#111" stroke-width="0.35" >1.5</text>
<line x1="497.42" y1="344.50" x2="497.42" y2="346.50" stroke="#2a2a2a" stroke-width="1"/>
<line x1="497.42" y1="194.00" x2="497.42" y2="196.00" stroke="#2a2a2a" stroke-width="1"/>
<line x1="518.56" y1="344.50" x2="518.56" y2="348.50" stroke="#2a2a2a" stroke-width="1"/>
<line x1="518.56" y1="194.00" x2="518.56" y2="198.00" stroke="#2a2a2a" stroke-width="1"/>
<text transform="translate(518.56,360.80) scale(1,1.1)" font-size="12" text-anchor="middle" stroke="#111" stroke-width="0.35" >2.0</text>
<line x1="539.70" y1="344.50" x2="539.70" y2="346.50" stroke="#2a2a2a" stroke-width="1"/>
<line x1="539.70" y1="194.00" x2="539.70" y2="196.00" stroke="#2a2a2a" stroke-width="1"/>
<text transform="translate(434.00,383.50) scale(1,1.0)" font-size="14" text-anchor="middle" stroke="#111" stroke-width="0.35" >Molar Ratio</text>
<line x1="326.30" y1="344.70" x2="328.30" y2="344.70" stroke="#2a2a2a" stroke-width="1"/>
<line x1="539.70" y1="344.70" x2="537.70" y2="344.70" stroke="#2a2a2a" stroke-width="1"/>
<line x1="324.30" y1="332.10" x2="328.30" y2="332.10" stroke="#2a2a2a" stroke-width="1"/>
<line x1="539.70" y1="332.10" x2="535.70" y2="332.10" stroke="#2a2a2a" stroke-width="1"/>
<text transform="translate(321.00,335.40) scale(1,1.1)" font-size="12" text-anchor="end" stroke="#111" stroke-width="0.35" >-10</text>
<line x1="326.30" y1="319.50" x2="328.30" y2="319.50" stroke="#2a2a2a" stroke-width="1"/>
<line x1="539.70" y1="319.50" x2="537.70" y2="319.50" stroke="#2a2a2a" stroke-width="1"/>
<line x1="324.30" y1="306.90" x2="328.30" y2="306.90" stroke="#2a2a2a" stroke-width="1"/>
<line x1="539.70" y1="306.90" x2="535.70" y2="306.90" stroke="#2a2a2a" stroke-width="1"/>
<text transform="translate(321.00,310.20) scale(1,1.1)" font-size="12" text-anchor="end" stroke="#111" stroke-width="0.35" >-8</text>
<line x1="326.30" y1="294.30" x2="328.30" y2="294.30" stroke="#2a2a2a" stroke-width="1"/>
<line x1="539.70" y1="294.30" x2="537.70" y2="294.30" stroke="#2a2a2a" stroke-width="1"/>
<line x1="324.30" y1="281.70" x2="328.30" y2="281.70" stroke="#2a2a2a" stroke-width="1"/>
<line x1="539.70" y1="281.70" x2="535.70" y2="281.70" stroke="#2a2a2a" stroke-width="1"/>
<text transform="translate(321.00,285.00) scale(1,1.1)" font-size="12" text-anchor="end" stroke="#111" stroke-width="0.35" >-6</text>
<line x1="326.30" y1="269.10" x2="328.30" y2="269.10" stroke="#2a2a2a" stroke-width="1"/>
<line x1="539.70" y1="269.10" x2="537.70" y2="269.10" stroke="#2a2a2a" stroke-width="1"/>
<line x1="324.30" y1="256.50" x2="328.30" y2="256.50" stroke="#2a2a2a" stroke-width="1"/>
<line x1="539.70" y1="256.50" x2="535.70" y2="256.50" stroke="#2a2a2a" stroke-width="1"/>
<text transform="translate(321.00,259.80) scale(1,1.1)" font-size="12" text-anchor="end" stroke="#111" stroke-width="0.35" >-4</text>
<line x1="326.30" y1="243.90" x2="328.30" y2="243.90" stroke="#2a2a2a" stroke-width="1"/>
<line x1="539.70" y1="243.90" x2="537.70" y2="243.90" stroke="#2a2a2a" stroke-width="1"/>
<line x1="324.30" y1="231.30" x2="328.30" y2="231.30" stroke="#2a2a2a" stroke-width="1"/>
<line x1="539.70" y1="231.30" x2="535.70" y2="231.30" stroke="#2a2a2a" stroke-width="1"/>
<text transform="translate(321.00,234.60) scale(1,1.1)" font-size="12" text-anchor="end" stroke="#111" stroke-width="0.35" >-2</text>
<line x1="326.30" y1="218.70" x2="328.30" y2="218.70" stroke="#2a2a2a" stroke-width="1"/>
<line x1="539.70" y1="218.70" x2="537.70" y2="218.70" stroke="#2a2a2a" stroke-width="1"/>
<line x1="324.30" y1="206.10" x2="328.30" y2="206.10" stroke="#2a2a2a" stroke-width="1"/>
<line x1="539.70" y1="206.10" x2="535.70" y2="206.10" stroke="#2a2a2a" stroke-width="1"/>
<text transform="translate(321.00,209.40) scale(1,1.1)" font-size="12" text-anchor="end" stroke="#111" stroke-width="0.35" >0</text>
<text transform="translate(293.40000000000003,279) rotate(-90) scale(1,1.06)" font-size="14.5" text-anchor="middle" stroke="#111" stroke-width="0.35">kcal/mole of injectant</text>
<path d="M350.30,326.53 L351.09,326.51 L351.88,326.48 L352.66,326.46 L353.45,326.43 L354.23,326.40 L355.02,326.37 L355.80,326.34 L356.59,326.31 L357.37,326.28 L358.16,326.24 L358.94,326.21 L359.73,326.17 L360.51,326.13 L361.30,326.09 L362.08,326.05 L362.87,326.01 L363.65,325.97 L364.44,325.92 L365.22,325.87 L366.01,325.82 L366.79,325.77 L367.58,325.71 L368.36,325.66 L369.15,325.60 L369.93,325.54 L370.72,325.47 L371.50,325.40 L372.29,325.33 L373.07,325.26 L373.86,325.18 L374.64,325.10 L375.43,325.01 L376.21,324.92 L377.00,324.83 L377.78,324.73 L378.57,324.62 L379.35,324.51 L380.14,324.40 L380.93,324.27 L381.71,324.14 L382.50,324.01 L383.28,323.86 L384.07,323.71 L384.85,323.54 L385.64,323.37 L386.42,323.19 L387.21,322.99 L387.99,322.78 L388.78,322.56 L389.56,322.32 L390.35,322.07 L391.13,321.80 L391.92,321.51 L392.70,321.20 L393.49,320.86 L394.27,320.51 L395.06,320.12 L395.84,319.70 L396.63,319.26 L397.41,318.77 L398.20,318.25 L398.98,317.68 L399.77,317.06 L400.55,316.39 L401.34,315.67 L402.12,314.88 L402.91,314.01 L403.69,313.07 L404.48,312.05 L405.26,310.93 L406.05,309.71 L406.83,308.37 L407.62,306.91 L408.40,305.31 L409.19,303.58 L409.98,301.68 L410.76,299.62 L411.55,297.39 L412.33,294.99 L413.12,292.40 L413.90,289.62 L414.69,286.67 L415.47,283.56 L416.26,280.29 L417.04,276.90 L417.83,273.40 L418.61,269.84 L419.40,266.24 L420.18,262.65 L420.97,259.10 L421.75,255.62 L422.54,252.25 L423.32,249.01 L424.11,245.93 L424.89,243.02 L425.68,240.28 L426.46,237.73 L427.25,235.35 L428.03,233.16 L428.82,231.14 L429.60,229.27 L430.39,227.57 L431.17,226.00 L431.96,224.56 L432.74,223.25 L433.53,222.05 L434.31,220.95 L435.10,219.94 L435.88,219.02 L436.67,218.17 L437.45,217.39 L438.24,216.68 L439.03,216.02 L439.81,215.42 L440.60,214.86 L441.38,214.34 L442.17,213.86 L442.95,213.42 L443.74,213.01 L444.52,212.63 L445.31,212.28 L446.09,211.95 L446.88,211.64 L447.66,211.36 L448.45,211.09 L449.23,210.84 L450.02,210.61 L450.80,210.39 L451.59,210.18 L452.37,209.99 L453.16,209.81 L453.94,209.64 L454.73,209.47 L455.51,209.32 L456.30,209.18 L457.08,209.04 L457.87,208.91 L458.65,208.79 L459.44,208.68 L460.22,208.57 L461.01,208.46 L461.79,208.37 L462.58,208.27 L463.36,208.18 L464.15,208.10 L464.93,208.02 L465.72,207.94 L466.51,207.87 L467.29,207.80 L468.08,207.73 L468.86,207.66 L469.65,207.60 L470.43,207.54 L471.22,207.49 L472.00,207.43 L472.79,207.38 L473.57,207.33 L474.36,207.28 L475.14,207.24 L475.93,207.19 L476.71,207.15 L477.50,207.11 L478.28,207.07 L479.07,207.03 L479.85,207.00 L480.64,206.96 L481.42,206.93 L482.21,206.90 L482.99,206.87 L483.78,206.84 L484.56,206.81 L485.35,206.78 L486.13,206.75 L486.92,206.72 L487.70,206.70 L488.49,206.67 L489.27,206.65 L490.06,206.63 L490.84,206.61 L491.63,206.58 L492.41,206.56 L493.20,206.54 L493.98,206.52 L494.77,206.50 L495.56,206.48 L496.34,206.47 L497.13,206.45 L497.91,206.43 L498.70,206.42 L499.48,206.40 L500.27,206.38 L501.05,206.37 L501.84,206.35 L502.62,206.34 L503.41,206.33 L504.19,206.31 L504.98,206.30 L505.76,206.29 L506.55,206.27" fill="none" stroke="#f09595" stroke-width="1.1"/>
<rect x="349.50" y="324.40" width="5.2" height="5" fill="#150808"/>
<rect x="355.50" y="326.50" width="5.2" height="5" fill="#150808"/>
<rect x="361.70" y="321.90" width="5.2" height="5" fill="#150808"/>
<rect x="367.50" y="321.10" width="5.2" height="5" fill="#150808"/>
<rect x="373.70" y="323.60" width="5.2" height="5" fill="#150808"/>
<rect x="379.60" y="323.30" width="5.2" height="5" fill="#150808"/>
<rect x="386.00" y="320.30" width="5.2" height="5" fill="#150808"/>
<rect x="391.80" y="317.70" width="5.2" height="5" fill="#150808"/>
<rect x="398.50" y="312.40" width="5.2" height="5" fill="#150808"/>
<rect x="404.70" y="303.60" width="5.2" height="5" fill="#150808"/>
<rect x="411.10" y="288.30" width="5.2" height="5" fill="#150808"/>
<rect x="417.60" y="262.20" width="5.2" height="5" fill="#150808"/>
<rect x="423.60" y="238.00" width="5.2" height="5" fill="#150808"/>
<rect x="430.40" y="219.30" width="5.2" height="5" fill="#150808"/>
<rect x="436.90" y="212.30" width="5.2" height="5" fill="#150808"/>
<rect x="443.50" y="206.40" width="5.2" height="5" fill="#150808"/>
<rect x="449.80" y="205.10" width="5.2" height="5" fill="#150808"/>
<rect x="463.20" y="203.80" width="5.2" height="5" fill="#150808"/>
<rect x="469.90" y="206.00" width="5.2" height="5" fill="#150808"/>
<rect x="476.50" y="206.60" width="5.2" height="5" fill="#150808"/>
<rect x="483.20" y="205.80" width="5.2" height="5" fill="#150808"/>
<rect x="490.30" y="204.70" width="5.2" height="5" fill="#150808"/>
<rect x="497.20" y="203.70" width="5.2" height="5" fill="#150808"/>
<rect x="504.20" y="206.60" width="5.2" height="5" fill="#150808"/>
<text transform="translate(438.30,267.70) scale(1,1.1)" font-size="13" text-anchor="start" stroke="#111" stroke-width="0.2" >N</text>
<text transform="translate(479.70,267.70) scale(1,1.1)" font-size="13" text-anchor="start" stroke="#111" stroke-width="0.2" >0.80</text>
<text transform="translate(438.30,284.30) scale(1,1.1)" font-size="13" text-anchor="start" stroke="#111" stroke-width="0.2" >K</text>
<text transform="translate(479.70,284.30) scale(1,1.1)" font-size="13" text-anchor="start" stroke="#111" stroke-width="0.2" >2.5E7</text>
<text transform="translate(438.30,300.90) scale(1,1.1)" font-size="13" text-anchor="start" stroke="#111" stroke-width="0.2" >ΔH</text>
<text transform="translate(479.70,300.90) scale(1,1.1)" font-size="13" text-anchor="start" stroke="#111" stroke-width="0.2" >-9640</text></svg>
</body></html>
